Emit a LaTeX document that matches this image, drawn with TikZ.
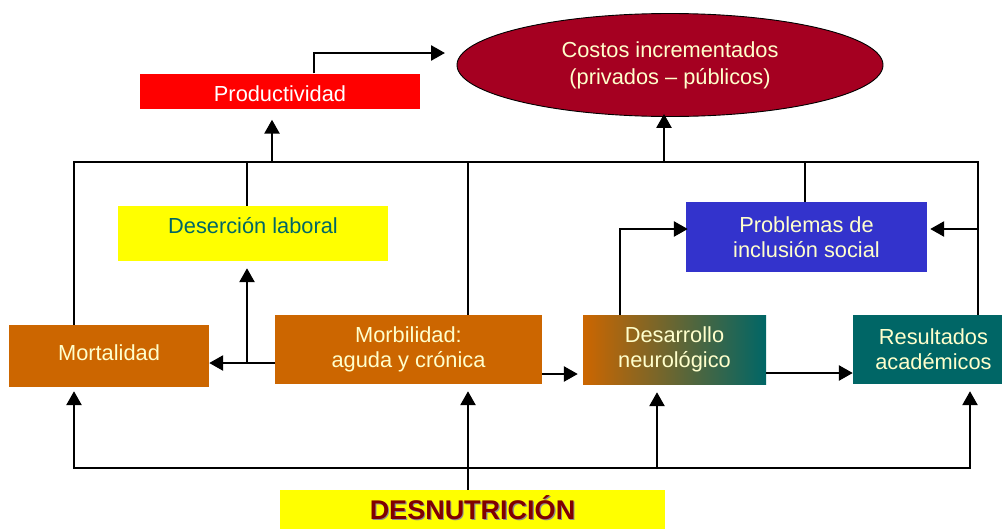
\documentclass[tikz,border=0pt]{standalone}
\usepackage{fontspec}
\setmainfont{Liberation Sans}
\usetikzlibrary{arrows.meta,shapes.geometric,shadings}
\definecolor{corange}{HTML}{CC6600}
\definecolor{cteal}{HTML}{006666}
\definecolor{cblue}{HTML}{3333CC}
\definecolor{cred}{HTML}{FF0000}
\definecolor{cyellow}{HTML}{FFFF00}
\definecolor{cwine}{HTML}{A50021}
\definecolor{ccream}{HTML}{FFFFCC}
\definecolor{cdark}{HTML}{800000}
\tikzset{
  box/.style={rectangle, inner sep=0pt, align=center, text=ccream,
    font=\fontsize{21.8}{25}\selectfont},
  conn/.style={line width=2.6pt, line join=miter},
  arr/.style={conn, -{Triangle[length=14pt,width=15pt]}}
}
\begin{document}
\begin{tikzpicture}[x=1pt,y=-1pt]
\useasboundingbox (0,0) rectangle (1002,528);
% nodes
\node[box, ellipse, fill=cwine, draw=black, line width=0.9pt,
  minimum width=426pt, minimum height=103pt,
  font=\fontsize{21.8}{27}\selectfont] (cost) at (670,65)
  {Costos incrementados\\(privados -- públicos)};
\node[box, fill=cred, text=white, minimum width=280pt, minimum height=35pt,
  text height=20pt, text depth=0pt] (prod) at (280,91) {Productividad};
\node[box, fill=cyellow, text=cteal, minimum width=270pt, minimum height=55pt,
  text height=16pt, text depth=17pt] (deser) at (253,233.5) {Deserción laboral};
\node[box, fill=cblue, minimum width=241pt, minimum height=70pt] (prob) at (806.5,237) {Problemas de\\inclusión social};
\node[box, fill=corange, minimum width=200pt, minimum height=62pt,
  text height=12pt, text depth=4pt] (mort) at (109,356) {Mortalidad};
\node[box, fill=corange, minimum width=267pt, minimum height=69pt] (morb) at (408.5,349.5) {Morbilidad:\\aguda y crónica};
\node[box, left color=corange, right color=cteal, minimum width=183pt, minimum height=69pt] (desa) at (674.5,349.5) {Desarrollo\\neurológico};
\node[box, fill=cteal, minimum width=161pt, minimum height=69pt] (resu) at (933.5,349.5) {Resultados\\académicos};
\node[box, fill=cyellow, text=cdark, minimum width=385pt, minimum height=45pt,
  text height=20pt, text depth=6pt,
  font=\fontsize{27}{30}\selectfont\bfseries] (desn) at (472.5,512.5)
  {\makebox[0pt][l]{\raisebox{-1.2pt}{\hspace{1.2pt}\textcolor{black!45}{DESNUTRICIÓN}}}DESNUTRICIÓN};
% coordinates
\coordinate (pa) at (314,53);
\coordinate (pb) at (445,53);
\coordinate (bL) at (74,162);
\coordinate (bR) at (978,162);
\coordinate (jD) at (247,162);
\coordinate (jProd) at (272,162);
\coordinate (jM) at (468,162);
\coordinate (jC) at (664,162);
\coordinate (jP) at (805,162);
\coordinate (jR) at (978,229);
\coordinate (dP) at (620,229);
\coordinate (mm) at (275,363);
\coordinate (jMD) at (247,363);
\coordinate (md) at (542,374);
\coordinate (dr) at (766,373);
\coordinate (b1) at (74,468);
\coordinate (b2) at (970,468);
\coordinate (b3) at (657,468);
\coordinate (b4) at (468,468);
% connectors top
\draw[arr] (prod.north -| pa) -- (pa) -- (pb);
\draw[conn] (mort.north -| bL) -- (bL) -- (bR) -- (resu.north -| bR);
\draw[conn] (jD) -- (jD |- deser.north);
\draw[conn] (jM) -- (jM |- morb.north);
\draw[conn] (jP) -- (jP |- prob.north);
\draw[arr, shorten >=11pt] (jProd) -- (jProd |- prod.south);
\draw[arr, shorten >=-3pt] (jC) -- (jC |- cost.south);
\draw[arr, shorten >=3pt] (jR) -- (jR -| prob.east);
\draw[arr, shorten >=-2pt] (dP |- desa.north) -- (dP) -- (dP -| prob.west);
% middle row
\draw[arr] (mm) -- (mm -| mort.east);
\draw[arr, shorten >=7pt] (jMD) -- (jMD |- deser.south);
\draw[arr, shorten >=5pt] (md) -- (md -| desa.west);
\draw[arr] (dr) -- (dr -| resu.west);
% bottom
\draw[arr, shorten >=4pt] (b2) -- (b1) -- (b1 |- mort.south);
\draw[arr, shorten >=7pt] (b1) -- (b2) -- (b2 |- resu.south);
\draw[arr, shorten >=8pt] (b3) -- (b3 |- desa.south);
\draw[arr, shorten >=7pt] (desn.north -| b4) -- (b4 |- morb.south);
\end{tikzpicture}
\end{document}
